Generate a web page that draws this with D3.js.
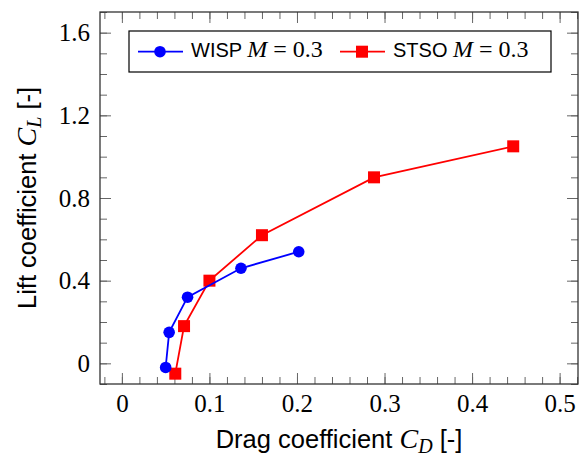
<!DOCTYPE html>
<meta charset="utf-8">
<title>Lift vs drag</title>
<style>
body { margin: 0; background: #fff; }
.tick line { stroke: #666; }
.domain { stroke: none; }
.frame { fill: none; stroke: #333; stroke-width: 1.3px; }
.ticklab text { font-family: "Liberation Serif", serif; font-size: 25px; fill: #000; }
.lab { font-family: "Liberation Sans", Arial, sans-serif; font-size: 25.5px; fill: #000; }
.leg { font-family: "Liberation Sans", Arial, sans-serif; font-size: 20px; fill: #000; }
.math { font-family: "Liberation Serif", serif; }
</style>
<body>
<div id="container"></div>
<script src="https://d3js.org/d3.v7.min.js"></script>
<script>
// data
var wispCD = [0.050, 0.054, 0.075, 0.136, 0.202];
var wispCL = [-0.02, 0.15, 0.32, 0.46, 0.54];
var stsoCD = [0.061, 0.071, 0.100, 0.160, 0.288, 0.447];
var stsoCL = [-0.05, 0.18, 0.40, 0.62, 0.90, 1.05];

var xTicks = [0, 0.1, 0.2, 0.3, 0.4, 0.5];
var xTickLabels = ["0", "0.1", "0.2", "0.3", "0.4", "0.5"];
var yTicks = [0, 0.4, 0.8, 1.2, 1.6];
var yTickLabels = ["0", "0.4", "0.8", "1.2", "1.6"];
var xMinor = d3.range(-0.02, 0.521, 0.02);
var yMinor = d3.range(-0.1, 1.71, 0.1);

var width = 581, height = 456;
var mLeft = 100, mRight = 578, mTop = 12, mBottom = 384;

var x = d3.scaleLinear().domain([-0.025, 0.521]).range([mLeft, mRight]);
var y = d3.scaleLinear().domain([-0.1, 1.7]).range([mBottom, mTop]);

var svg = d3.select("#container").append("svg")
    .attr("width", width)
    .attr("height", height);

// minor ticks (inward, all four sides)
svg.append("g").attr("transform", "translate(0," + mBottom + ")")
   .call(d3.axisBottom(x).tickValues(xMinor).tickSize(-7).tickFormat(""));
svg.append("g").attr("transform", "translate(0," + mTop + ")")
   .call(d3.axisTop(x).tickValues(xMinor).tickSize(-7).tickFormat(""));
svg.append("g").attr("transform", "translate(" + mLeft + ",0)")
   .call(d3.axisLeft(y).tickValues(yMinor).tickSize(-7).tickFormat(""));
svg.append("g").attr("transform", "translate(" + mRight + ",0)")
   .call(d3.axisRight(y).tickValues(yMinor).tickSize(-7).tickFormat(""));

// major ticks
svg.append("g").attr("class", "ticklab")
   .attr("transform", "translate(0," + mBottom + ")")
   .call(d3.axisBottom(x).tickValues(xTicks).tickSize(-11).tickPadding(10)
         .tickFormat(function(d, i) { return xTickLabels[i]; }));
svg.append("g").attr("transform", "translate(0," + mTop + ")")
   .call(d3.axisTop(x).tickValues(xTicks).tickSize(-11).tickFormat(""));
svg.append("g").attr("class", "ticklab")
   .attr("transform", "translate(" + mLeft + ",0)")
   .call(d3.axisLeft(y).tickValues(yTicks).tickSize(-11).tickPadding(10)
         .tickFormat(function(d, i) { return yTickLabels[i]; }));
svg.append("g").attr("transform", "translate(" + mRight + ",0)")
   .call(d3.axisRight(y).tickValues(yTicks).tickSize(-11).tickFormat(""));

svg.append("rect").attr("class", "frame")
   .attr("x", mLeft).attr("y", mTop)
   .attr("width", mRight - mLeft).attr("height", mBottom - mTop);

// series
var line = d3.line().x(function(d) { return x(d[0]); }).y(function(d) { return y(d[1]); });
var wisp = wispCD.map(function(d, i) { return [d, wispCL[i]]; });
var stso = stsoCD.map(function(d, i) { return [d, stsoCL[i]]; });

svg.append("path").datum(stso).attr("d", line)
   .attr("fill", "none").attr("stroke", "#ff0000").attr("stroke-width", 1.8);
svg.selectAll(".sq").data(stso).enter().append("rect")
   .attr("x", function(d) { return x(d[0]) - 6; })
   .attr("y", function(d) { return y(d[1]) - 6; })
   .attr("width", 12).attr("height", 12).attr("fill", "#ff0000");

svg.append("path").datum(wisp).attr("d", line)
   .attr("fill", "none").attr("stroke", "#0000ff").attr("stroke-width", 1.8);
svg.selectAll(".dot").data(wisp).enter().append("circle")
   .attr("cx", function(d) { return x(d[0]); })
   .attr("cy", function(d) { return y(d[1]); })
   .attr("r", 5.8).attr("fill", "#0000ff");

// axis labels
var xl = svg.append("text").attr("class", "lab")
   .attr("x", (mLeft + mRight) / 2).attr("y", 448).attr("text-anchor", "middle");
xl.append("tspan").text("Drag coefficient ");
xl.append("tspan").attr("class", "math").attr("font-style", "italic").attr("font-size", 28).text("C");
xl.append("tspan").attr("class", "math").attr("font-style", "italic").attr("font-size", 20).attr("dy", 5).text("D");
xl.append("tspan").attr("dy", -5).text(" [-]");

var yl = svg.append("text").attr("class", "lab")
   .attr("transform", "translate(36," + ((mTop + mBottom) / 2) + ")rotate(-90)")
   .attr("text-anchor", "middle");
yl.append("tspan").text("Lift coefficient ");
yl.append("tspan").attr("class", "math").attr("font-style", "italic").attr("font-size", 28).text("C");
yl.append("tspan").attr("class", "math").attr("font-style", "italic").attr("font-size", 20).attr("dy", 5).text("L");
yl.append("tspan").attr("dy", -5).text(" [-]");

// legend
var lg = svg.append("g");
lg.append("rect").attr("x", 129).attr("y", 31).attr("width", 422).attr("height", 41)
   .attr("fill", "#fff").attr("stroke", "#000").attr("stroke-width", 1.2);

function legendEntry(x0, color, shape, name) {
  var cy = 51.7;
  lg.append("line").attr("x1", x0).attr("x2", x0 + 45).attr("y1", cy).attr("y2", cy)
    .attr("stroke", color).attr("stroke-width", 1.8);
  if (shape == "circle") {
    lg.append("circle").attr("cx", x0 + 22).attr("cy", cy).attr("r", 5.8).attr("fill", color);
  } else {
    lg.append("rect").attr("x", x0 + 16).attr("y", cy - 6).attr("width", 12).attr("height", 12).attr("fill", color);
  }
  var t = lg.append("text").attr("class", "leg").attr("x", x0 + 53).attr("y", 57);
  t.append("tspan").text(name + " ");
  t.append("tspan").attr("class", "math").attr("font-style", "italic").attr("font-size", 24).text("M");
  t.append("tspan").attr("class", "math").attr("font-size", 24).text(" = 0.3");
}
legendEntry(138, "#0000ff", "circle", "WISP");
legendEntry(340, "#ff0000", "square", "STSO");
</script>
</body>
</html>
